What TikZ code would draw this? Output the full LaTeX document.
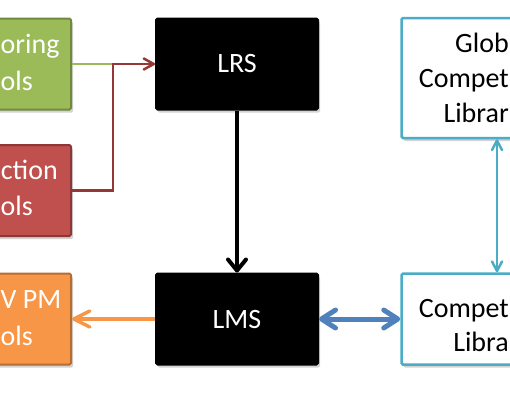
\documentclass[tikz,border=0pt]{standalone}
\usepackage{fontspec}
\setmainfont{Carlito}
\usetikzlibrary{positioning,arrows.meta,shadows}
\definecolor{mongreen}{HTML}{9BBB59}
\definecolor{mongreend}{HTML}{71893F}
\definecolor{intred}{HTML}{C0504D}
\definecolor{intredd}{HTML}{8C3836}
\definecolor{linkred}{HTML}{953735}
\definecolor{pmorange}{HTML}{F79646}
\definecolor{pmoranged}{HTML}{B66D31}
\definecolor{libcyan}{HTML}{4BACC6}
\definecolor{lmsblue}{HTML}{4F81BD}

\begin{document}
\begin{tikzpicture}[node distance=255pt,on grid,
	box/.style={rectangle,minimum width=162pt,minimum height=91pt,align=center,
		font=\fontsize{28pt}{35pt}\selectfont,text=white,line width=2pt,rounded corners=1.5pt,
		drop shadow={shadow xshift=2pt,shadow yshift=-3pt,opacity=0.35}},
	toolbox/.style={box,fill=#1,draw=#1d},
	sysbox/.style={box,fill=black,draw=black},
	libbox/.style={box,fill=white,draw=libcyan,minimum width=188pt,line width=2.5pt},
	boxtext/.style={inner sep=0pt,font=\fontsize{28pt}{35pt}\selectfont,text=#1},
	boxtext/.default=white,
	barb/.style 2 args={-{Straight Barb[length=#1,width=#2,round]}},
	dbarb/.style 2 args={{Straight Barb[length=#1,width=#2,round]}-{Straight Barb[length=#1,width=#2,round]}}]
	\useasboundingbox (0,0) rectangle (510pt,-400pt);
	\clip (0,0) rectangle (510pt,-400pt);
	\node[sysbox] (LRS) at (237pt,-64pt) {LRS};
	\node[sysbox] (LMS) [below=of LRS] {LMS};
	\node[toolbox=mongreen] (Mon) [left=247pt of LRS] {};
	\node[toolbox=intred] (Int) [below=126.5pt of Mon] {};
	\node[toolbox=pmorange] (PM) [left=247pt of LMS] {};
	\node[libbox] (CL) [right=258.5pt of LMS] {};
	\node[libbox,minimum height=120pt] (Glob) [above=241pt of CL] {};
	% what is left of the box texts inside the frame
	\node[boxtext,anchor=base west] (Mon-1) at (0.5pt,-53pt) {oring};
	\node[boxtext,anchor=base west] (Mon-2) at (0.5pt,-90pt) {ols};
	\node[boxtext,anchor=base east] (Int-1) at (58pt,-179pt) {ction};
	\node[boxtext,anchor=base west] (Int-2) at (0.5pt,-215pt) {ols};
	\node[boxtext,anchor=base west] (PM-1) at (0.5pt,-308pt) {V PM};
	\node[boxtext,anchor=base west] (PM-2) at (0.5pt,-345pt) {ols};
	\node[boxtext=black,anchor=base east] (Glob-1) at (509pt,-52pt) {Glob};
	\node[boxtext=black,anchor=base east] (Glob-2) at (509pt,-87pt) {Compet};
	\node[boxtext=black,anchor=base east] (Glob-3) at (509pt,-122pt) {Librar};
	\node[boxtext=black,anchor=base east] (CL-1) at (509pt,-317pt) {Compet};
	\node[boxtext=black,anchor=base east] (CL-2) at (509pt,-351pt) {Libra};
	% tools feeding the record store
	\draw[mongreen,line width=2.5pt] (Mon.east) -- (LRS.west);
	\draw[linkred,line width=2.5pt,barb={10pt}{11pt}] (Int.east) -- ++(41pt,0) |- (LRS.west);
	\draw[black,line width=4pt,barb={11pt}{18pt}] (LRS) -- (LMS);
	\draw[pmorange,line width=3.5pt,barb={16pt}{16pt}] (LMS) -- (PM);
	\draw[lmsblue,line width=5pt,dbarb={14pt}{18pt}] (LMS) -- (CL);
	\draw[libcyan,line width=2.5pt,dbarb={9.5pt}{10pt}]
		([xshift=1.5pt]Glob.south) -- ([xshift=1.5pt]CL.north);
\end{tikzpicture}
\end{document}
